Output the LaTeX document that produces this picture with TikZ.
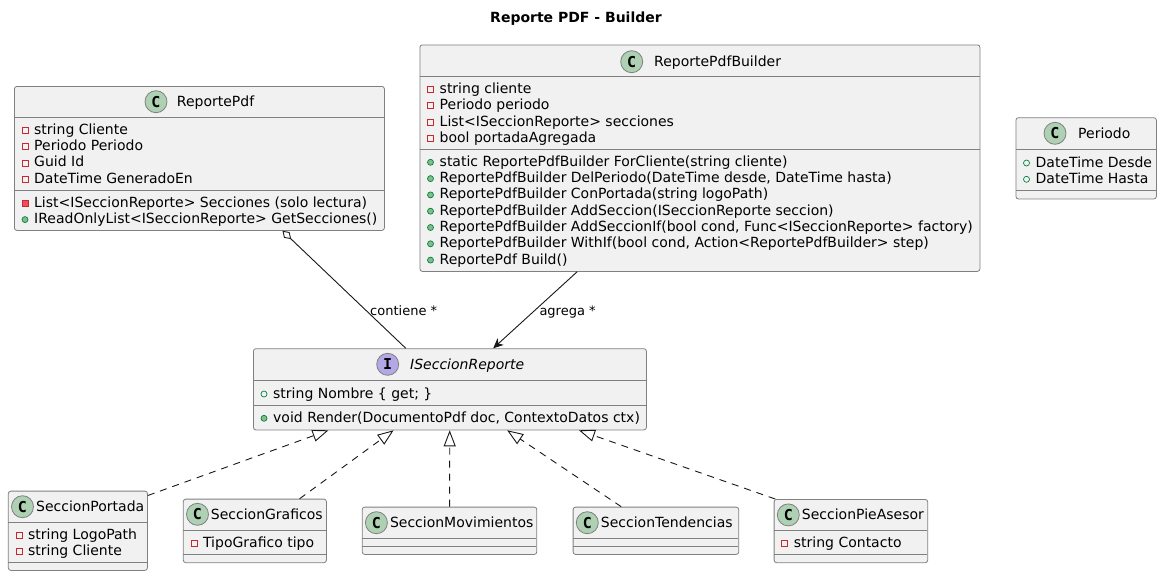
\documentclass[tikz,border=0pt]{standalone}
\usepackage{fontspec}
\setmainfont{DejaVu Sans}
\newfontfamily\circfont{DejaVu Sans Mono}
\usetikzlibrary{arrows.meta,calc}
\definecolor{boxfill}{HTML}{F1F1F1}
\definecolor{boxline}{HTML}{181818}
\definecolor{boxedge}{HTML}{808080}
\definecolor{classcirc}{HTML}{ADD1B2}
\definecolor{ifacecirc}{HTML}{B4A7E5}
\definecolor{privred}{HTML}{C82930}
\definecolor{privfill}{HTML}{F24D5C}
\definecolor{pubgreen}{HTML}{038048}
\definecolor{pubfill}{HTML}{84BE84}
\newcommand\memfont{\fontsize{14}{16}\selectfont}
\newcommand\lblfont{\fontsize{13}{15}\selectfont}
\newcommand\ttlfont{\fontsize{14}{16}\selectfont\bfseries}
\newcommand\spotfont{\fontsize{15}{16}\selectfont\circfont\bfseries}
\newcommand\umem[4]{\pic at (#1+11,#2+1) {#3}; \node[mem] at (#1+20,#2+5) {#4};}
\newcommand\usep[3]{\draw[sepline] (#1,#3) -- (#2,#3);}
\begin{document}
\begin{tikzpicture}[x=1pt,y=-1pt,
  cbox/.style={draw=boxedge, fill=boxfill, rounded corners=2.5pt, line width=0.8pt, inner sep=0pt, anchor=north west},
  sepline/.style={draw=boxedge, line width=0.8pt},
  mem/.style={anchor=base west, inner sep=0pt, font=\memfont},
  cname/.style={anchor=base west, inner sep=0pt, font=\memfont},
  lbl/.style={anchor=base west, inner sep=0pt, font=\lblfont},
  spot/.style={circle, draw=boxedge, line width=0.8pt, minimum size=22pt, inner sep=0pt, font=\spotfont},
  edge/.style={draw=boxline, line width=0.9pt},
  realize/.style={edge, dash pattern=on 7pt off 6pt, -{Triangle[open, fill=white, length=16pt, width=12pt]}},
  pf/.pic={\draw[privred, line width=0.7pt] (-3,-3) rectangle (3,3);},
  pm/.pic={\draw[privred, fill=privfill, line width=0.7pt] (-3,-3) rectangle (3,3);},
  uf/.pic={\draw[pubgreen, line width=0.7pt] (0,0) circle[radius=3pt];},
  um/.pic={\draw[pubgreen, fill=pubfill, line width=0.7pt] (0,0) circle[radius=3pt];}
]
\useasboundingbox (0,0) rectangle (1164,576);
\fill[white] (0,0) rectangle (1164,576);

% title
\node[font=\ttlfont, anchor=base, inner sep=0pt] (title) at (576,22.7) {Reporte PDF - Builder};

% ReportePdf
\node[cbox, minimum width=370pt, minimum height=144pt] (rp) at (14,86) {};
\node[spot, fill=classcirc] (rpc) at (156,101.7) {C};
\node[cname] (rpn) at (176.7,106.7) {ReportePdf};
\usep{14}{384}{117.3}
\umem{14}{129.3}{pf}{string Cliente}
\umem{14}{145.6}{pf}{Periodo Periodo}
\umem{14}{161.9}{pf}{Guid Id}
\umem{14}{178.2}{pf}{DateTime GeneradoEn}
\usep{14}{384}{190}
\umem{14}{202.3}{pm}{List<ISeccionReporte> Secciones (solo lectura)}
\umem{14}{218.6}{um}{IReadOnlyList<ISeccionReporte> GetSecciones()}

% ReportePdfBuilder
\node[cbox, minimum width=560pt, minimum height=226.5pt] (rb) at (419.5,44.5) {};
\node[spot, fill=classcirc] (rbc) at (631.7,61.7) {C};
\node[cname] (rbn) at (654,66.7) {ReportePdfBuilder};
\usep{419.5}{979.5}{76.5}
\umem{419.5}{88.5}{pf}{string cliente}
\umem{419.5}{104.8}{pf}{Periodo periodo}
\umem{419.5}{121.1}{pf}{List<ISeccionReporte> secciones}
\umem{419.5}{137.4}{pf}{bool portadaAgregada}
\usep{419.5}{979.5}{149.3}
\umem{419.5}{161.3}{um}{static ReportePdfBuilder ForCliente(string cliente)}
\umem{419.5}{177.6}{um}{ReportePdfBuilder DelPeriodo(DateTime desde, DateTime hasta)}
\umem{419.5}{193.9}{um}{ReportePdfBuilder ConPortada(string logoPath)}
\umem{419.5}{210.2}{um}{ReportePdfBuilder AddSeccion(ISeccionReporte seccion)}
\umem{419.5}{226.5}{um}{ReportePdfBuilder AddSeccionIf(bool cond, Func<ISeccionReporte> factory)}
\umem{419.5}{242.8}{um}{ReportePdfBuilder WithIf(bool cond, Action<ReportePdfBuilder> step)}
\umem{419.5}{259.1}{um}{ReportePdf Build()}

% Periodo
\node[cbox, minimum width=140.5pt, minimum height=81.2pt] (pe) at (1015.5,117.3) {};
\node[spot, fill=classcirc] (pec) at (1055,133.3) {C};
\node[cname] (pen) at (1078,138.3) {Periodo};
\usep{1015.5}{1156}{149.3}
\umem{1015.5}{162}{uf}{DateTime Desde}
\umem{1015.5}{178.3}{uf}{DateTime Hasta}
\usep{1015.5}{1156}{190}

% ISeccionReporte
\node[cbox, minimum width=393pt, minimum height=81.2pt] (isr) at (253,348.3) {};
\node[spot, fill=ifacecirc] (isrc) at (387.7,364.3) {I};
\node[cname] (isrn) at (410,369.3) {\itshape ISeccionReporte};
\usep{253}{646}{380}
\umem{253}{393}{uf}{string Nombre \{ get; \}}
\usep{253}{646}{405.8}
\umem{253}{417.3}{um}{void Render(DocumentoPdf doc, ContextoDatos ctx)}

% SeccionPortada
\node[cbox, minimum width=139.1pt, minimum height=79.3pt] (sp) at (7.9,490.7) {};
\node[spot, fill=classcirc] (spc) at (22.5,506.7) {C};
\node[cname] (spn) at (36,511.7) {SeccionPortada};
\usep{7.9}{147}{522.3}
\umem{7.9}{534.3}{pf}{string LogoPath}
\umem{7.9}{550.3}{pf}{string Cliente}
\usep{7.9}{147}{562.3}

% SeccionGraficos
\node[cbox, minimum width=143.1pt, minimum height=63.6pt] (sg) at (182.9,498.7) {};
\node[spot, fill=classcirc] (sgc) at (197.5,514.3) {C};
\node[cname] (sgn) at (210.7,519.3) {SeccionGraficos};
\usep{182.9}{326}{530.3}
\umem{182.9}{542.3}{pf}{TipoGrafico tipo}
\usep{182.9}{326}{554.3}

% SeccionMovimientos
\node[cbox, minimum width=174.6pt, minimum height=47.3pt] (sm) at (361.8,506.7) {};
\node[spot, fill=classcirc] (smc) at (376.4,522.7) {C};
\node[cname] (smn) at (389.8,527.7) {SeccionMovimientos};
\usep{361.8}{536.4}{538.3}
\usep{361.8}{536.4}{546.2}

% SeccionTendencias
\node[cbox, minimum width=165.6pt, minimum height=47.3pt] (st) at (572.7,506.7) {};
\node[spot, fill=classcirc] (stc) at (587.3,522.7) {C};
\node[cname] (stn) at (600.7,527.7) {SeccionTendencias};
\usep{572.7}{738.3}{538.3}
\usep{572.7}{738.3}{546.2}

% SeccionPieAsesor
\node[cbox, minimum width=153.6pt, minimum height=63.3pt] (sa) at (773.7,499) {};
\node[spot, fill=classcirc] (sac) at (788.3,514.9) {C};
\node[cname] (san) at (801.7,519.9) {SeccionPieAsesor};
\usep{773.7}{927.3}{530.6}
\umem{773.7}{542.6}{pf}{string Contacto}
\usep{773.7}{927.3}{554.3}

% connector end points on the boxes
\coordinate (agS) at ($(rp.south west)!0.724!(rp.south east)$);
\coordinate (agT) at ($(isr.north west)!0.388!(isr.north east)$);
\coordinate (asS) at ($(rb.south west)!0.281!(rb.south east)$);
\coordinate (asT) at ($(isr.north west)!0.61!(isr.north east)$);
\coordinate (t1) at ($(isr.south west)!0.1916!(isr.south east)$);
\coordinate (t2) at ($(isr.south west)!0.357!(isr.south east)$);
\coordinate (t3) at ($(isr.south west)!0.4995!(isr.south east)$);
\coordinate (t4) at ($(isr.south west)!0.6455!(isr.south east)$);
\coordinate (t5) at ($(isr.south west)!0.8277!(isr.south east)$);
\coordinate (s1) at ($(sp.north east)!0.06!(sp.south east)$);
\coordinate (s2) at ($(sg.north west)!0.811!(sg.north east)$);
\coordinate (s3) at ($(sm.north west)!0.501!(sm.north east)$);
\coordinate (s4) at ($(st.north west)!0.2917!(st.north east)$);
\coordinate (s5) at ($(sa.north west)!0.01!(sa.north east)$);

% aggregation
\draw[edge, {Diamond[open, fill=white, length=12pt, width=8pt]}-] (agS) -- (agT);
\node[lbl] (lc) at (370,315.5) {contiene *};
% association
\draw[edge, -{Stealth[length=10pt, width=9pt, inset=3pt]}] (asS) -- (asT);
\node[lbl] (la) at (539.3,315.5) {agrega *};
% realizations
\draw[realize] (s1) -- (t1);
\draw[realize] (s2) -- (t2);
\draw[realize] (s3) -- (t3);
\draw[realize] (s4) -- (t4);
\draw[realize] (s5) -- (t5);
\end{tikzpicture}
\end{document}
